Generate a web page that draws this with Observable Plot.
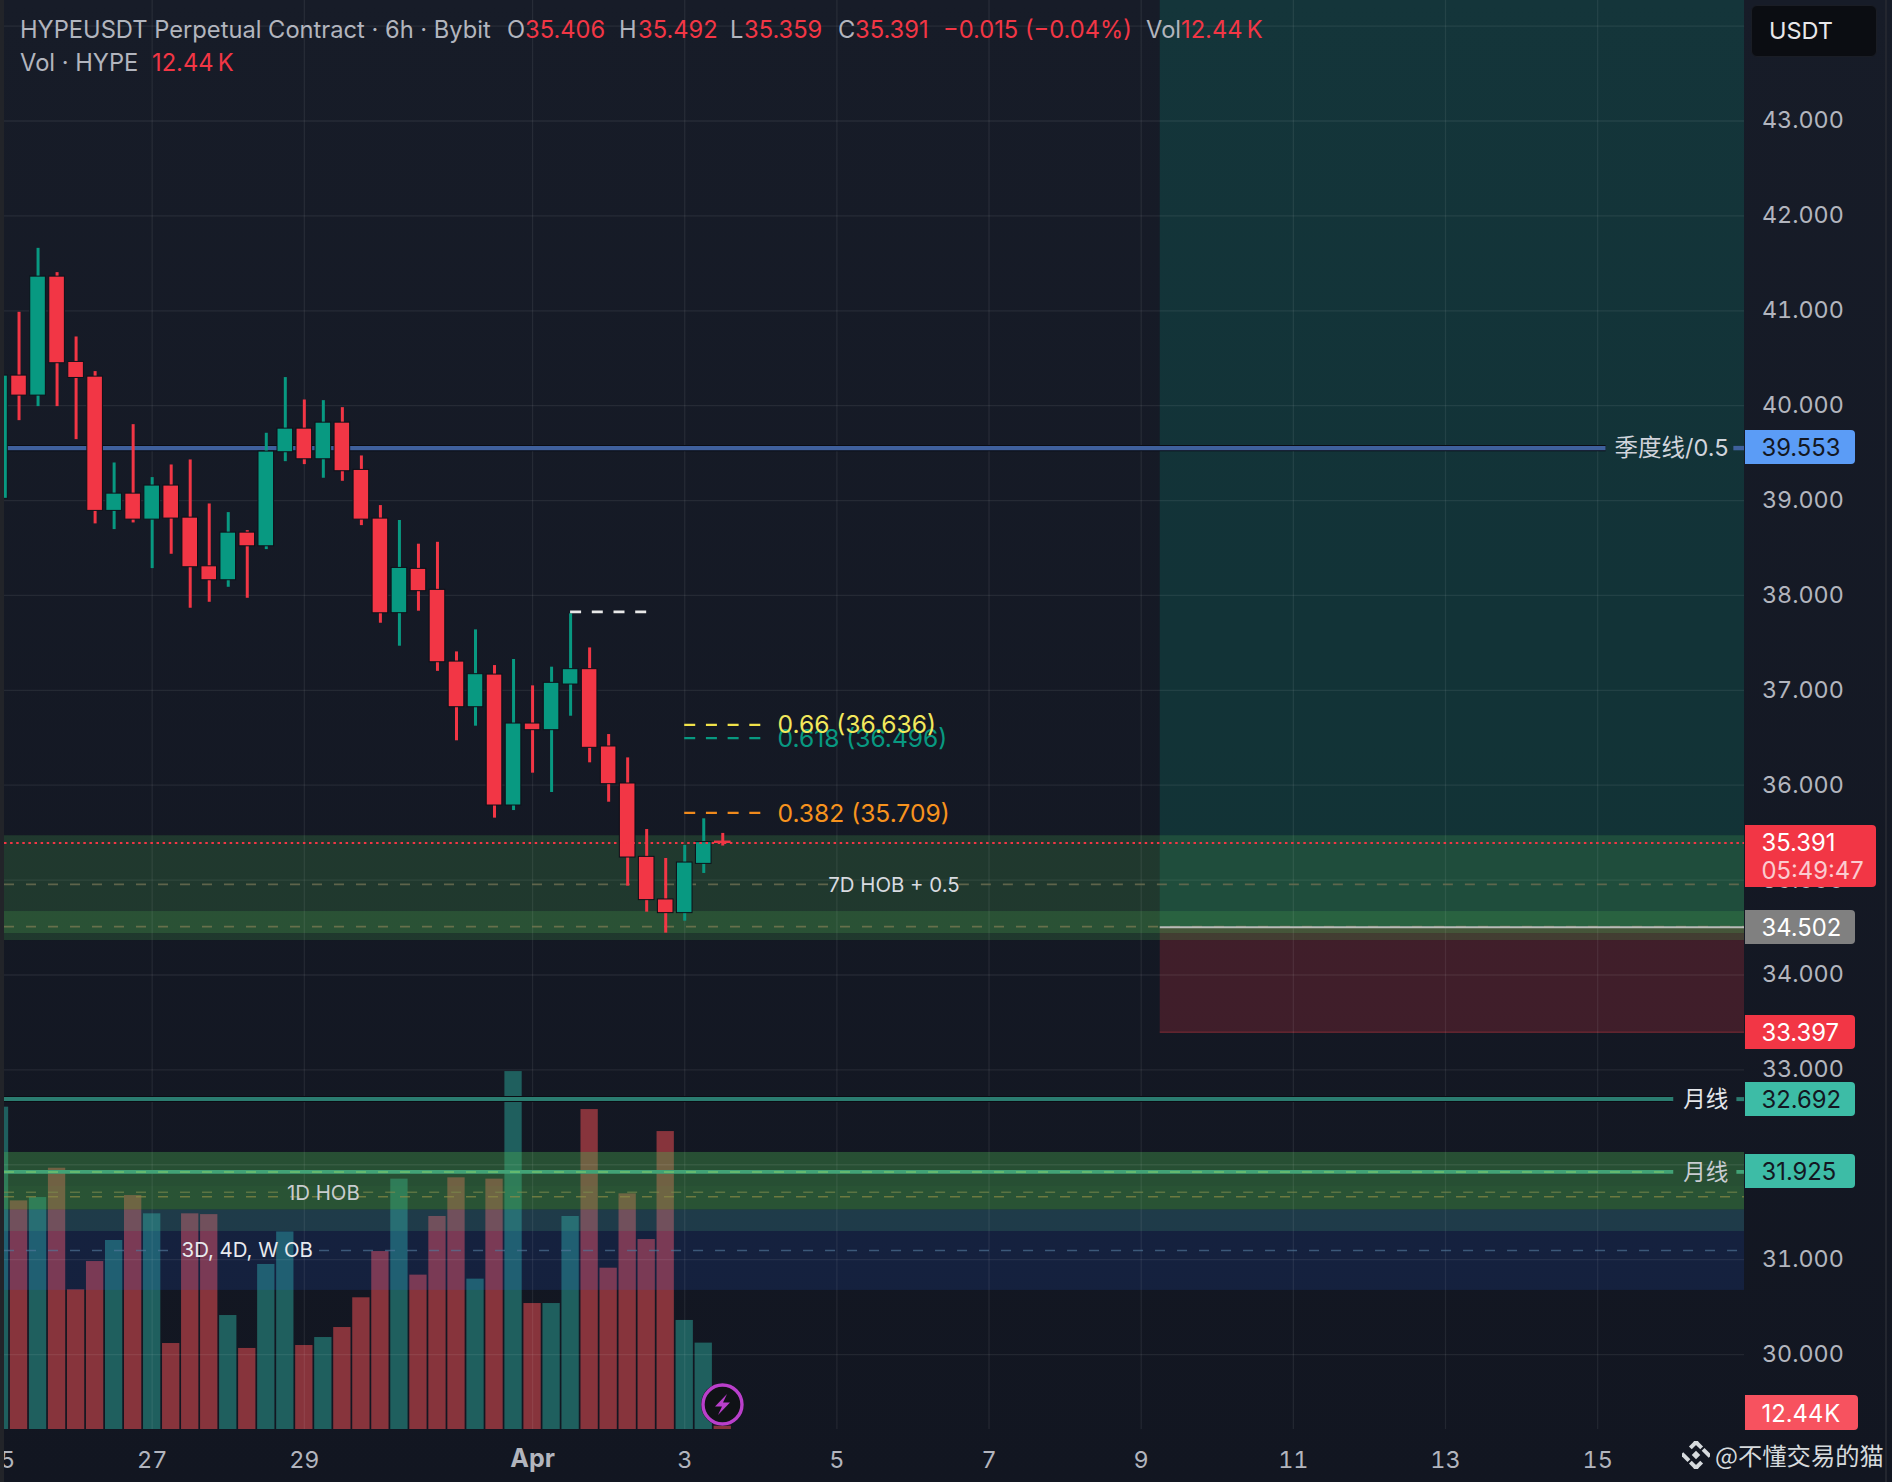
<!DOCTYPE html>
<html><head><meta charset="utf-8">
<script src="https://cdn.jsdelivr.net/npm/d3@7"></script>
<script src="https://cdn.jsdelivr.net/npm/@observablehq/plot@0.6"></script>
<style>
html,body{margin:0;padding:0;background:#131722;}
#wrap{position:relative;width:1892px;height:1482px;overflow:hidden;background:linear-gradient(#171c28,#121621);font-family:Inter,"Noto Sans CJK SC",sans-serif;}
#wrap svg{display:block;}
.abs{position:absolute;white-space:nowrap;}
.tag{position:absolute;left:1745px;box-sizing:border-box;padding-left:16.5px;font-size:23.8px;border-radius:0 4px 4px 0;line-height:35.5px;height:34px;}
.leg{position:absolute;white-space:nowrap;font-size:23.7px;line-height:26px;color:#b2b5be;}
.r{color:#f23645}
</style></head><body><div id="wrap"></div>
<script>
const UP="#089981", DOWN="#f23645";
const DAY=864e5, BAR=6*36e5;
const t0=Date.UTC(2026,2,27);
const firstBar=-8;
const opens =[39.018,40.317,40.106,41.36,40.461,40.306,38.891,39.073,38.799,39.158,38.82,38.307,38.16,38.662,38.518,39.509,39.758,39.435,39.821,39.323,38.81,37.813,38.28,38.059,37.303,36.822,37.166,35.786,36.65,36.58,37.061,37.223,36.408,36.018,35.245,34.796,34.652,35.171,35.406];
const highs =[40.317,40.984,41.658,41.402,40.724,40.359,39.396,39.80,39.242,39.375,39.428,38.964,38.873,38.683,39.709,40.296,40.06,40.053,39.979,39.47,38.947,38.79,38.54,38.56,37.405,37.637,37.261,37.325,37.047,37.244,37.806,37.447,36.534,36.288,35.533,35.228,35.365,35.646,35.492];
const lows  =[39.018,39.842,39.99,39.99,39.642,38.754,38.694,38.764,38.283,38.434,37.865,37.928,38.086,37.97,38.483,39.41,39.379,39.235,39.203,38.736,37.707,37.465,37.834,37.2,36.468,36.622,35.653,35.733,36.127,35.923,36.727,36.236,35.821,34.936,34.662,34.441,34.567,35.07,35.359];
const closes=[40.317,40.106,41.36,40.447,40.292,38.891,39.073,38.799,39.158,38.81,38.297,38.16,38.662,38.518,39.516,39.758,39.435,39.821,39.309,38.799,37.812,38.29,38.045,37.296,36.822,37.17,35.786,36.65,36.58,37.079,37.223,36.394,36.011,35.238,34.789,34.652,35.185,35.40,35.391];
const volumesK=[1209,857.5,870,980,524,630,709,877.5,809,322.5,809,806,427.5,304,619,741,315,345,382.5,494,667.5,939,579,799,944,564,939,1342.5,472.5,472.5,799,1200,605,884,712.5,1117.5,409,324,12.44];
const priceTicks=[30,31,32,33,34,35,36,37,38,39,40,41,42,43,44];
const dayTicks=[[2,25],[2,27],[2,29],[3,3],[3,5],[3,7],[3,9],[3,11],[3,13],[3,15]].map(([m,d])=>new Date(Date.UTC(2026,m,d)));
const aprTick=new Date(Date.UTC(2026,3,1));
const yMin=29.21,yMax=44.27;
const kPerPrice=355.9;
const at=d=>new Date(t0+d*DAY);
const xStart=at(-1.941), xEnd=at(20.93);
const rows=opens.map((o,i)=>({t:new Date(t0+(firstBar+i)*BAR),o,h:highs[i],l:lows[i],c:closes[i],v:volumesK[i],up:closes[i]>=o}));
const pm=(d,hrs)=>new Date(+d+hrs*36e5);

const bg="#0d1018";
const zone=(p1,p2,x1,x2,fill,op)=>Plot.rect([0],{x1,x2,y1:p1,y2:p2,fill,fillOpacity:op,clip:true});
const hl=(p,x1,x2,stroke,strokeWidth,extra={})=>Plot.ruleY([p],{x1,x2,stroke,strokeWidth,clip:true,...extra});
const label=(text,x,y,fill,extra={})=>Plot.text([text],{x,y,text:d=>d,fill,fontSize:20.4,dy:1.5,textAnchor:"middle",fontFamily:'Inter,"Noto Sans CJK SC",sans-serif',...extra});
const G="#4caf50";

const marks=[
 Plot.rect(rows,{x1:d=>pm(d.t,-2.73),x2:d=>pm(d.t,2.73),y1:yMin,y2:d=>yMin+d.v/kPerPrice,fill:d=>d.up?"#1f5f5e":"#87343c",clip:true}),
 // right-hand long/short position
 zone(34.502,yMax,at(13.25),xEnd,UP,0.2),
 zone(33.397,34.502,at(13.25),xEnd,DOWN,0.2),
 hl(33.397,at(13.25),xEnd,"#7a2a35",1.2),
 // order-block bands
 zone(34.363,35.467,xStart,xEnd,G,0.22),
 zone(34.437,34.669,xStart,xEnd,G,0.22),
 zone(31.524,32.13,xStart,xEnd,G,0.22),
 zone(31.524,32.13,xStart,xEnd,G,0.2),
 zone(31.524,31.771,xStart,xEnd,G,0.05),
 zone(30.676,31.524,xStart,xEnd,"#2962ff",0.13),
 zone(31.297,31.524,xStart,xEnd,"#4caf78",0.19),
 // grid
 Plot.ruleY(priceTicks,{stroke:"#fff",strokeOpacity:0.07,strokeWidth:1.3,clip:true}),
 Plot.ruleX([...dayTicks,aprTick],{stroke:"#fff",strokeOpacity:0.07,strokeWidth:1.3,clip:true}),
 // dashed band midlines
 hl(34.954,xStart,at(8.89),"#6a6c50",1.8,{strokeDasharray:"10,12",strokeOpacity:0.85}),
 hl(34.954,at(10.61),xEnd,"#6a6c50",1.8,{strokeDasharray:"10,12",strokeOpacity:0.85}),
 hl(34.51,xStart,xEnd,"#71754f",1.8,{strokeDasharray:"10,12",strokeOpacity:0.85}),
 hl(31.711,xStart,at(1.67),"#7d8a4c",1.6,{strokeDasharray:"10,12",strokeOpacity:0.6}),
 hl(31.711,at(2.78),xEnd,"#7d8a4c",1.6,{strokeDasharray:"10,12",strokeOpacity:0.6}),
 hl(31.663,xStart,xEnd,"#8a8a45",1.6,{strokeDasharray:"10,12",strokeOpacity:0.7}),
 hl(31.097,xStart,at(0.27),"#52789a",1.6,{strokeDasharray:"10,12",strokeOpacity:0.65}),
 hl(31.097,at(2.2),xEnd,"#52789a",1.6,{strokeDasharray:"10,12",strokeOpacity:0.65}),
 // horizontal levels
 hl(39.553,xStart,at(19.11),"#0b0d14",6.4),
 hl(39.553,xStart,at(19.11),"#3f609c",4.4),
 hl(39.553,at(20.79),xEnd,"#3f609c",4.4),
 hl(32.692,xStart,at(19.98),"#0b0d14",6),
 hl(32.692,xStart,at(20.0),"#2b7c70",4),
 hl(32.692,at(20.83),xEnd,"#2b7c70",4),
 hl(31.925,xStart,at(20.0),"#42a276",3.8),
 hl(31.925,xStart,at(20.0),"#7cc86a",2,{strokeDasharray:"10,12",strokeOpacity:0.6}),
 hl(31.925,at(20.83),xEnd,"#42a276",3.8),
 hl(34.502,at(13.25),xEnd,"#b8bbb8",2),
 // candles
 Plot.ruleX(rows,{x:"t",y1:"l",y2:"h",stroke:d=>d.up?UP:DOWN,strokeWidth:3,clip:true}),
 Plot.rect(rows,{x1:d=>pm(d.t,-2.46),x2:d=>pm(d.t,2.46),y1:"o",y2:"c",fill:d=>d.up?UP:DOWN,stroke:d=>Math.abs(d.o-d.c)<0.03?DOWN:bg,strokeWidth:1,clip:true}),
 // last-price line
 hl(35.391,xStart,xEnd,DOWN,2,{strokeDasharray:"2.5,3.6"}),
 // fib and swing-high dashes
 hl(37.827,new Date(t0+22*BAR),new Date(t0+26*BAR),"#e8e8e8",2.6,{strokeDasharray:"11,10.7"}),
 hl(36.636,new Date(t0+28*BAR),new Date(t0+32*BAR),"#f0e24a",2.4,{strokeDasharray:"11,10.7"}),
 hl(36.496,new Date(t0+28*BAR),new Date(t0+32*BAR),"#089981",2.4,{strokeDasharray:"11,10.7"}),
 hl(35.709,new Date(t0+28*BAR),new Date(t0+32*BAR),"#f08a1c",2.4,{strokeDasharray:"11,10.7"}),
 label("0.618 (36.496)",at(8.22),36.496,"#089981",{textAnchor:"start",fontSize:24.6,dy:0.5}),
 label("0.66 (36.636)",at(8.22),36.636,"#f2e85c",{textAnchor:"start",fontSize:24.6,dy:0.5}),
 label("0.382 (35.709)",at(8.22),35.709,"#f7931e",{textAnchor:"start",fontSize:24.6,dy:1}),
 label("7D HOB + 0.5",at(9.75),34.954,"#d8dbe0"),
 label("1D HOB",at(2.25),31.70,"#c9cdd0",{dy:0.5}),
 label("3D, 4D, W OB",at(1.25),31.097,"#e8eaee",{dy:0.5}),
 label("季度线/0.5",at(19.97),39.553,"#d1d4dc",{fontSize:23.5,dy:0}),
 label("月线",at(20.42),32.692,"#e4e6ea",{fontSize:22.5,dy:0.5}),
 label("月线",at(20.42),31.925,"#c9ccd2",{fontSize:22.5,dy:0.5}),
 // axes
 Plot.axisY(priceTicks.filter(d=>d!==44),{anchor:"right",tickSize:0,tickPadding:17.5,tickFormat:d=>d.toFixed(3),fill:"#b2b5be",fontSize:23.3,label:null,textAnchor:"start",fontFamily:"Inter"}),
 Plot.axisX(dayTicks,{anchor:"bottom",tickSize:0,tickPadding:22,tickFormat:d=>d.getUTCDate(),fill:"#b2b5be",fontSize:23.4,label:null,fontFamily:"Inter"}),
 Plot.text(["Apr"],{x:aprTick,frameAnchor:"bottom",dy:37,text:d=>d,fill:"#b2b5be",fontSize:25,fontWeight:700,fontFamily:"Inter"})
];

const chart=Plot.plot({width:1892,height:1482,marginLeft:4,marginRight:148,marginTop:0,marginBottom:53,
  x:{type:"utc",domain:[xStart,xEnd]},y:{domain:[yMin,yMax]},
  style:{background:"transparent",overflow:"visible"},marks});
const wrap=document.getElementById("wrap");
wrap.appendChild(chart);
const Y=chart.scale("y");

// chrome: edge strips
const add=(html)=>{const t=document.createElement("template");t.innerHTML=html.trim();const n=t.content.firstChild;wrap.appendChild(n);return n;};
add('<div class="abs" style="left:0;top:0;width:4px;height:1482px;background:#222429"></div>');
add('<div class="abs" style="left:1885px;top:0;width:1.5px;height:1482px;background:#23262f"></div>');

// price tags
const tags=[
 {p:39.553,text:"39.553",bg:"#5b9cf6",fg:"#131722",off:1},
 {p:34.502,text:"34.502",bg:"#808080",fg:"#fff",off:0},
 {p:33.397,text:"33.397",bg:DOWN,fg:"#fff",off:0},
 {p:32.692,text:"32.692",bg:"#3dbca6",fg:"#131722",off:0},
 {p:31.925,text:"31.925",bg:"#3dbca6",fg:"#131722",off:0}];
for(const t of tags){add(`<div class="tag" style="top:${Y.apply(t.p)-17-t.off}px;width:109.5px;background:${t.bg};color:${t.fg}">${t.text}</div>`);}
add(`<div class="abs" style="left:1745px;top:825px;width:131px;height:62px;background:${DOWN};border-radius:0 4px 4px 0;color:#fff;font-size:23.8px;padding-left:16.5px;box-sizing:border-box;line-height:28px;padding-top:4px">35.391<br><span style="opacity:.75">05:49:47</span></div>`);
add(`<div class="tag" style="top:1395px;height:35px;width:113px;background:#f7525f;color:#fff;line-height:37px">12.44<span style="margin-left:1px">K</span></div>`);
add('<div class="abs" style="left:1751px;top:5px;width:126px;height:52px;background:#0b0d12;border-radius:6px;color:#e8e8ea;font-size:23.5px;line-height:50px;text-align:center;box-sizing:border-box;padding-right:26px;border:1px solid #1a1d25">USDT</div>');

// legend
const legend=[[20,30,"HYPEUSDT Perpetual Contract · 6h · Bybit",""],
 [507,30,"O",""],[525,30,"35.406","r"],[619,30,"H",""],[638,30,"35.492","r"],[730,30,"L",""],[744,30,"35.359","r"],
 [838,30,"C",""],[855,30,"35.391","r"],[943,30,"−0.015 (−0.04%)","r"],[1146,30,"Vol",""],[1181,30,"12.44\u2009K","r"],
 [20,63,"Vol · HYPE",""],[152,63,"12.44\u2009K","r"]];
for(const [x,y,s,c] of legend){add(`<div class="leg ${c}" style="left:${x}px;top:${y-13}px">${s}</div>`);}

// lightning badge
add(`<svg class="abs" style="left:700px;top:1382px" width="45" height="45" viewBox="0 0 45 45"><circle cx="22.5" cy="22.5" r="21.5" fill="#101216"/><circle cx="22.5" cy="22.5" r="19.5" fill="#101216" stroke="#b93fcb" stroke-width="3.4"/><path d="M27 12 L15 24.5 H22 L18 33 L30 20.5 H23 Z" fill="#b93fcb"/></svg>`);

// watermark
add(`<svg class="abs" style="left:1682px;top:1441px" width="28" height="28" viewBox="-14 -14 28 28"><g fill="#d6dadd" transform="rotate(45)"><rect x="-3" y="-3" width="6" height="6"/><rect x="-11" y="-11" width="4" height="10"/><rect x="-11" y="-11" width="10" height="4"/><rect x="7" y="1" width="4" height="10"/><rect x="1" y="7" width="10" height="4"/><rect x="1" y="-11" width="10" height="4"/><rect x="-11" y="7" width="10" height="4"/></g></svg>`);
add(`<div class="abs" style="left:1715px;top:1438px;font-size:24.3px;line-height:34px;color:#d6dadd;font-family:'Noto Sans CJK SC',sans-serif">@不懂交易的猫</div>`);
</script></body></html>
